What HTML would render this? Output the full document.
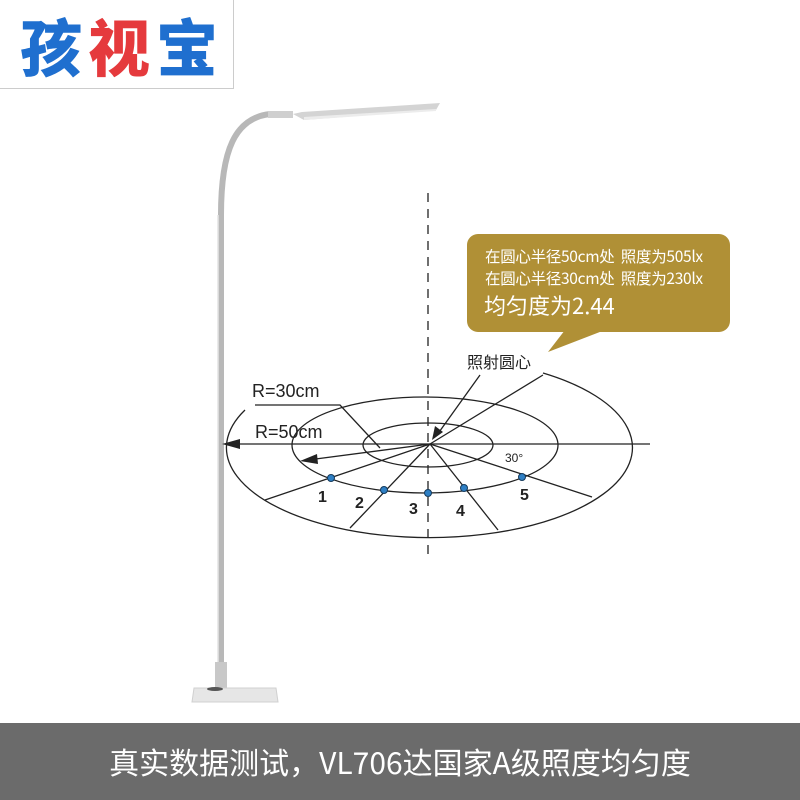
<!DOCTYPE html><html><head><meta charset="utf-8"><style>
body{margin:0;width:800px;height:800px;position:relative;background:#fff;overflow:hidden;font-family:"Liberation Sans","Noto Sans CJK SC",sans-serif}
.logo{position:absolute;left:-1px;top:-1px;width:233px;height:88px;border:1px solid #ccc;}
.logo span{position:absolute;top:8px;font-size:62px;font-weight:900;line-height:72px;font-family:"Noto Sans CJK SC",sans-serif}
.bub{position:absolute;left:467px;top:234px;width:263px;height:98px;background:#b09036;border-radius:11px;color:#fff}
.ban{position:absolute;left:0;top:723px;width:800px;height:77px;background:#6b6b6b;color:#fff;font-size:30px;text-align:center;line-height:77px;font-family:"Noto Sans CJK SC",sans-serif}
</style></head><body>
<div class="logo"><span style="left:20px;color:#1f6fcf">孩</span><span style="left:88px;color:#e53a3d">视</span><span style="left:156px;color:#1f6fcf">宝</span></div>
<svg width="800" height="800" style="position:absolute;left:0;top:0">
<path d="M221 690 L221 215 C221 150 235 118 270 114" fill="none" stroke="#b8b8b8" stroke-width="6"/>
<path d="M218 690 L218 215" stroke="#e4e4e4" stroke-width="1.5"/>
<rect x="268" y="111" width="25" height="7" fill="#cfcfcf"/>
<polygon points="293,114 302,112 440,103 436,110 304,120" fill="#d4d4d4"/>
<polygon points="304,117 436,109 436,111 304,120" fill="#ececec"/>
<rect x="215" y="662" width="12" height="26" fill="#c8c8c8"/>
<polygon points="194,688 276,688 278,702 192,702" fill="#e6e6e6" stroke="#d0d0d0"/>
<ellipse cx="215" cy="689" rx="8" ry="2" fill="#555"/>
<g fill="none" stroke="#222" stroke-width="1.3">
<path d="M245 410 A203 90 0 1 0 543 373"/>
<ellipse cx="425" cy="445" rx="133" ry="48"/>
<ellipse cx="428" cy="445" rx="65" ry="22"/>
<path d="M428 193 V560" stroke-dasharray="9 7"/>
<path d="M230 444 H650"/>
<path d="M430 444 L265 500 M430 444 L350 528 M430 444 L498 530 M430 444 L592 497 M430 444 L543 375"/>
<path d="M430 444 L308 460"/>
<path d="M255 405 H340 L380 448"/>
<path d="M480 375 L437 435"/>
</g>
<polygon points="222,444 240,439 240,449" fill="#222"/>
<polygon points="300,461 317,454 318,464" fill="#222"/>
<polygon points="432,440 435,426 443,432" fill="#222"/>
<g fill="#2e7fc4" stroke="#143a5c" stroke-width="1">
<circle cx="331" cy="478" r="3.5"/><circle cx="384" cy="490" r="3.5"/><circle cx="428" cy="493" r="3.5"/><circle cx="464" cy="488" r="3.5"/><circle cx="522" cy="477" r="3.5"/></g>
<g font-family="Liberation Sans,sans-serif" font-weight="bold" font-size="16" fill="#222">
<text x="318" y="502">1</text><text x="355" y="508">2</text><text x="409" y="514">3</text><text x="456" y="516">4</text><text x="520" y="500">5</text></g>
<g font-family="Liberation Sans,sans-serif" font-size="18" fill="#222"><text x="252" y="397">R=30cm</text><text x="255" y="438">R=50cm</text></g>
<text x="505" y="462" font-size="12" fill="#222" font-family="Liberation Sans,sans-serif">30°</text>
<text x="467" y="368" font-size="16" fill="#222" font-family="Noto Sans CJK SC,sans-serif">照射圆心</text>
<polygon points="565,330 605,330 548,352" fill="#b09036"/>
</svg>
<div class="bub"><div style="position:absolute;left:18px;top:11px;font-size:15.5px;line-height:22px;font-family:'Noto Sans CJK SC',sans-serif;white-space:nowrap;letter-spacing:-0.3px">在圆心半径50cm处&nbsp; 照度为505lx<br>在圆心半径30cm处&nbsp; 照度为230lx</div><div style="position:absolute;left:17px;top:55px;font-size:22px;font-family:'Noto Sans CJK SC',sans-serif">均匀度为2.44</div></div>
<div class="ban">真实数据测试，VL706达国家A级照度均匀度</div>
</body></html>
